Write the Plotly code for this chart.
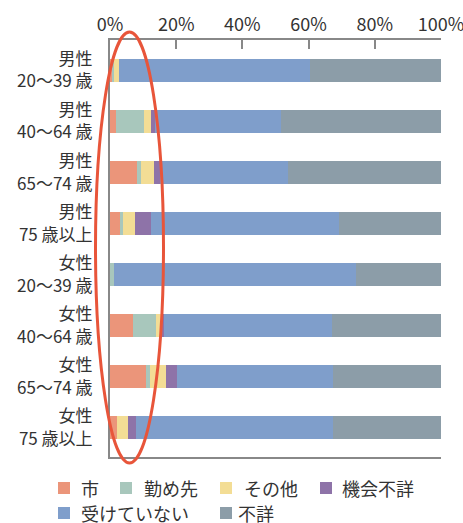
import plotly.graph_objects as go

# Respondent groups (top to bottom)
groups = [
    "男性<br>20〜39 歳",
    "男性<br>40〜64 歳",
    "男性<br>65〜74 歳",
    "男性<br>75 歳以上",
    "女性<br>20〜39 歳",
    "女性<br>40〜64 歳",
    "女性<br>65〜74 歳",
    "女性<br>75 歳以上",
]

# Share of each answer (%) per group
city = [0.8, 1.8, 8.2, 3.0, 0.0, 6.9, 10.9, 2.1]
workplace = [0.5, 8.5, 1.2, 0.9, 1.2, 6.9, 1.2, 0.0]
other = [1.4, 2.1, 3.9, 3.6, 0.0, 1.7, 4.8, 3.3]
occasion_unknown = [0.0, 1.2, 1.9, 4.8, 0.0, 0.8, 3.3, 2.4]
not_taken = [57.6, 38.1, 38.5, 56.9, 73.1, 50.7, 47.2, 59.6]
unknown = [39.7, 48.3, 46.3, 30.8, 25.7, 33.0, 32.6, 32.6]

series_names = ["市", "勤め先", "その他", "機会不詳", "受けていない", "不詳"]
series_values = [city, workplace, other, occasion_unknown, not_taken, unknown]
colors = ["#EB957A", "#A8C7BC", "#F3DD95", "#8E73A8", "#7F9ECB", "#8C9DA8"]

x_ticks = [0, 20, 40, 60, 80, 100]
x_tick_labels = ["0%", "20%", "40%", "60%", "80%", "100%"]

FONT = "Noto Sans CJK JP, Noto Sans, sans-serif"
W, H = 463, 523
ML, MR, MT, MB = 110, 22, 40, 66
PW, PH = W - ML - MR, H - MT - MB


def px_x(px):
    return (px - ML) / PW


def px_y(py):
    return (H - MB - py) / PH


fig = go.Figure()
for name, vals, col in zip(series_names, series_values, colors):
    fig.add_trace(go.Bar(
        y=groups, x=vals, name=name, orientation="h",
        marker=dict(color=col, line=dict(width=0)),
        showlegend=False, hoverinfo="x+name",
    ))

# Legend drawn as colour squares with labels, laid out in two rows
legend_items = [
    (0, 58, 79, 488), (1, 120, 142, 488), (2, 220, 242, 488), (3, 320, 340, 488),
    (4, 58, 79, 513), (5, 220, 236, 513),
]
shapes = []
annotations = []
for idx, sx, tx, cy in legend_items:
    shapes.append(dict(
        type="rect", xref="paper", yref="paper",
        x0=px_x(sx), x1=px_x(sx + 12), y0=px_y(cy - 6), y1=px_y(cy + 6),
        fillcolor=colors[idx], line=dict(width=0),
    ))
    annotations.append(dict(
        xref="paper", yref="paper", x=px_x(tx), y=px_y(cy),
        xanchor="left", yanchor="middle", showarrow=False,
        text=series_names[idx], font=dict(size=18, color="#333333", family=FONT),
    ))

# Highlight ellipse around the low-share segments
shapes.append(dict(
    type="circle", xref="paper", yref="paper",
    x0=px_x(95.5), x1=px_x(163.5), y0=px_y(463), y1=px_y(32),
    line=dict(color="#E8553A", width=3), fillcolor="rgba(0,0,0,0)", layer="above",
))

fig.update_layout(
    width=W, height=H,
    margin=dict(l=ML, r=MR, t=MT, b=MB, pad=0, autoexpand=False),
    barmode="stack", bargap=0.55,
    plot_bgcolor="white", paper_bgcolor="white",
    font=dict(family=FONT, size=18, color="#333333"),
    shapes=shapes, annotations=annotations,
    xaxis=dict(
        side="top", range=[0, 100], tickvals=x_ticks, ticktext=x_tick_labels,
        ticks="inside", ticklen=9, tickcolor="#888888", tickwidth=1.5,
        showline=True, linecolor="#888888", linewidth=1.5, mirror=True,
        showgrid=False, zeroline=False, ticklabeloverflow="allow",
        automargin=False,
        tickfont=dict(size=18, color="#333333", family=FONT),
    ),
    yaxis=dict(
        categoryorder="array", categoryarray=groups,
        range=[7.578, -0.598], automargin=False,
        showline=True, linecolor="#888888", linewidth=2,
        ticks="", ticklabelstandoff=12, showgrid=False, zeroline=False,
        tickfont=dict(size=17, color="#333333", family=FONT),
    ),
)

fig.write_html("out.html")
